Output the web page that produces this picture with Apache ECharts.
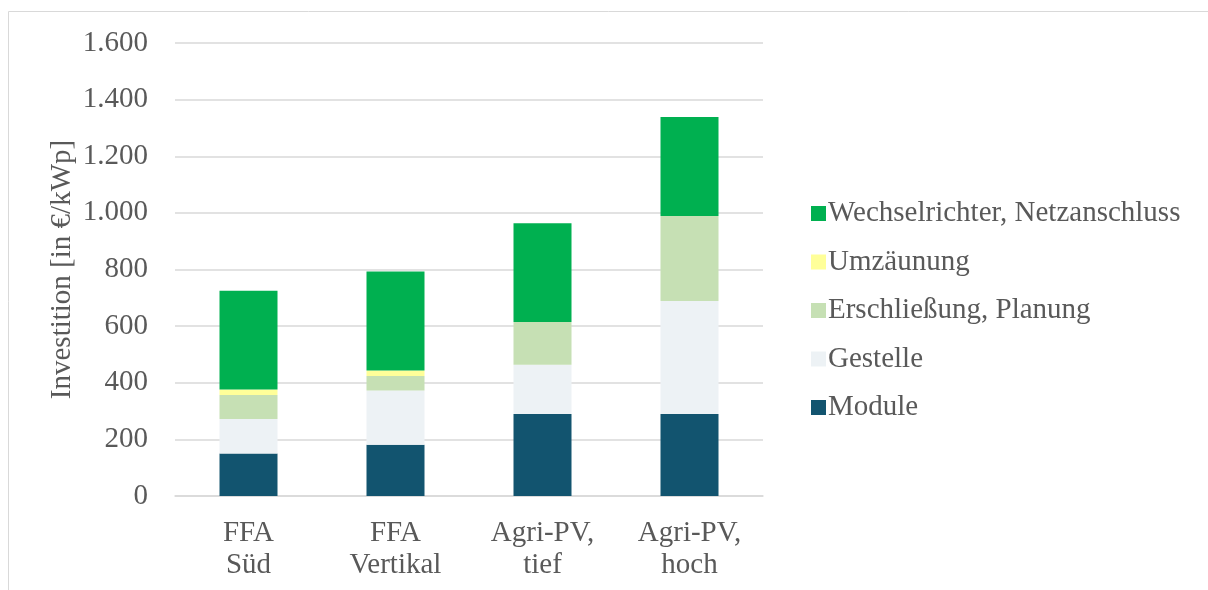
<!DOCTYPE html>
<html>
<head>
<meta charset="utf-8">
<script src="https://cdn.jsdelivr.net/npm/echarts@6/dist/echarts.min.js"></script>
<style>html,body{margin:0;padding:0;background:#fff}#c{width:1208px;height:590px}</style>
</head>
<body>
<div id="c"></div>
<script>
const categories = ['FFA\nSüd', 'FFA\nVertikal', 'Agri-PV,\ntief', 'Agri-PV,\nhoch'];
const module_ = [150, 181, 290, 290];
const gestelle = [122, 192, 174, 399];
const erschliessung = [85, 51, 151, 300];
const umzaeunung = [19, 19, 0, 0];
const wechselrichter = [349, 350, 348, 350];
const yTicks = [0, 200, 400, 600, 800, 1000, 1200, 1400, 1600];

const font = '"Liberation Serif", "Times New Roman", "DejaVu Serif", serif';
const fs = 29;
const chart = echarts.init(document.getElementById('c'));
const mk = (name, data, color) => ({
  name, type: 'bar', stack: 'total', data, barWidth: 58,
  itemStyle: { color }, emphasis: { disabled: true }
});
chart.setOption({
  animation: false,
  textStyle: { fontFamily: font },
  graphic: [{
    type: 'rect', shape: { x: 8.5, y: 11.5, width: 1220, height: 600 },
    style: { fill: 'none', stroke: '#d9d9d9', lineWidth: 1 }, silent: true
  }],
  grid: { left: 175, right: 445, top: 43, bottom: 94 },
  xAxis: {
    type: 'category', data: categories,
    axisLine: { lineStyle: { color: '#d9d9d9', width: 1.5 } },
    axisTick: { show: false },
    axisLabel: { fontFamily: font, fontSize: fs, color: '#595959', lineHeight: 32, margin: 21, interval: 0 }
  },
  yAxis: {
    type: 'value', min: yTicks[0], max: yTicks[yTicks.length - 1], interval: 200,
    name: 'Investition [in €/kWp]', nameLocation: 'middle', nameGap: 98,
    nameTextStyle: { fontFamily: font, fontSize: fs, color: '#595959' },
    axisLine: { show: false }, axisTick: { show: false },
    splitLine: { lineStyle: { color: '#d9d9d9', width: 1.5 } },
    axisLabel: {
      fontFamily: font, fontSize: fs, color: '#595959', margin: 27,
      formatter: v => v >= 1000 ? Math.floor(v / 1000) + '.' + String(v % 1000).padStart(3, '0') : String(v)
    }
  },
  legend: {
    orient: 'vertical', left: 806, top: 194,
    data: ['Wechselrichter, Netzanschluss', 'Umzäunung', 'Erschließung, Planung', 'Gestelle', 'Module'],
    icon: 'rect', itemWidth: 15, itemHeight: 15, itemGap: 19.5,
    textStyle: { fontFamily: font, fontSize: fs, color: '#595959', lineHeight: 29, padding: [0, 0, 0, -3] },
    selectedMode: false
  },
  series: [
    mk('Module', module_, '#12546f'),
    mk('Gestelle', gestelle, '#edf2f5'),
    mk('Erschließung, Planung', erschliessung, '#c6e0b4'),
    mk('Umzäunung', umzaeunung, '#ffff99'),
    mk('Wechselrichter, Netzanschluss', wechselrichter, '#00b050')
  ]
});
</script>
</body>
</html>
